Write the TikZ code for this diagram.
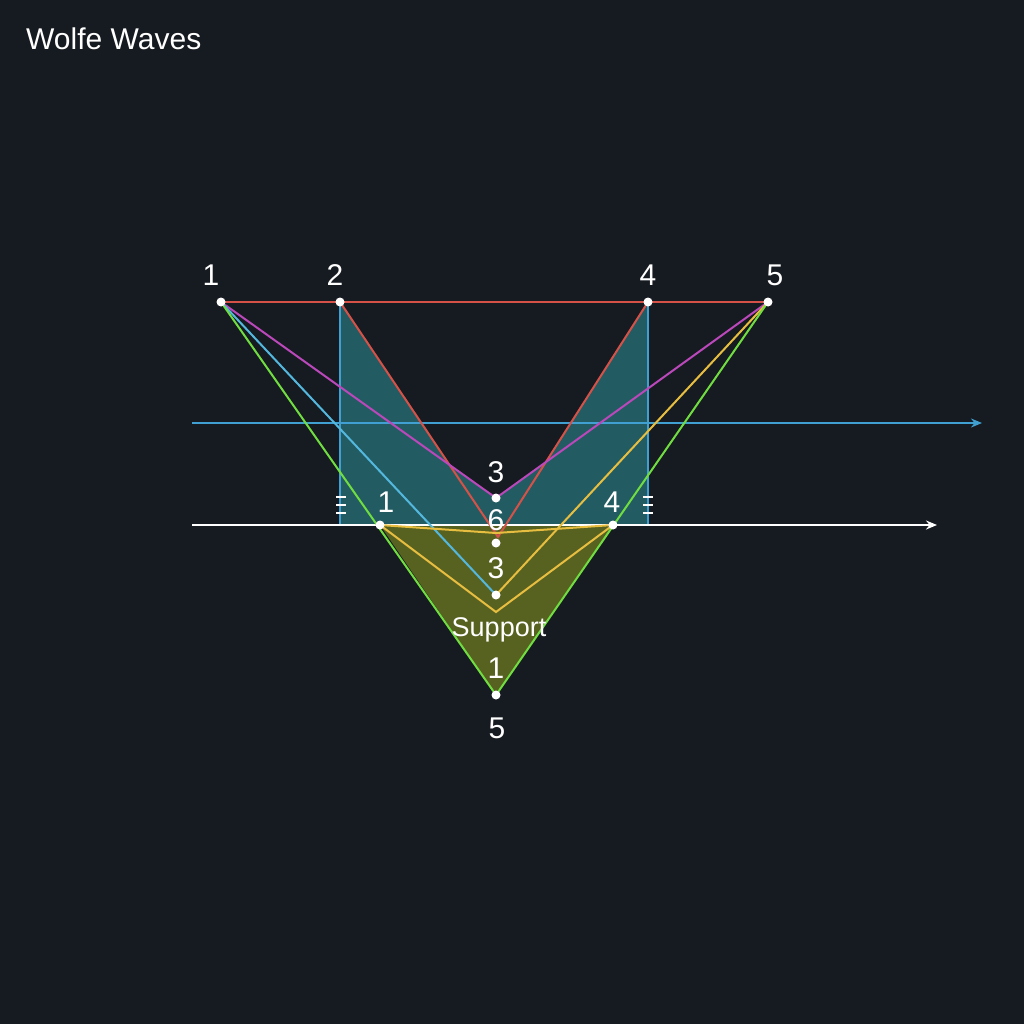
\documentclass[tikz,border=0pt]{standalone}
\usepackage{fontspec}
\setmainfont{Liberation Sans}
\usetikzlibrary{arrows.meta}
\definecolor{bgDark}{RGB}{22,26,33}
\definecolor{waveRed}{RGB}{214,82,72}
\definecolor{waveMagenta}{RGB}{186,72,186}
\definecolor{waveCyan}{RGB}{84,184,222}
\definecolor{axisBlue}{RGB}{64,160,210}
\definecolor{waveGreen}{RGB}{112,222,64}
\definecolor{waveYellow}{RGB}{232,190,64}
\definecolor{tealFill}{RGB}{34,92,98}
\definecolor{oliveFill}{RGB}{88,98,32}

\begin{document}
\begin{tikzpicture}[x=1pt, y=-1pt,
  dot/.style={circle, fill=white, inner sep=0pt, minimum size=9pt},
  num/.style={text=white, font=\fontsize{30}{30}\selectfont, inner sep=0pt},
  wave/.style={line width=2pt},
  tick/.style={white, line width=1.6pt},
  arr/.style={-{Stealth[length=11pt, width=9pt]}, line width=2pt}
]
\fill[bgDark] (0,0) rectangle (1024,1024);

% pivots of the wave
\coordinate (a1) at (221,302);
\coordinate (a2) at (340,302);
\coordinate (a4) at (648,302);
\coordinate (a5) at (768,302);
\coordinate (b1) at (380,525);
\coordinate (b4) at (613,525);
\coordinate (v2) at (340,525);
\coordinate (v4) at (648,525);
\coordinate (m3) at (496,498);
\coordinate (rv) at (498,537);
\coordinate (d6) at (496,543);
\coordinate (d3) at (496,595);
\coordinate (yv) at (496,612);
\coordinate (yc) at (496,533);
\coordinate (d5) at (496,695);
\coordinate (bluL) at (192,423);
\coordinate (bluR) at (982,423);
\coordinate (whtL) at (192,525);
\coordinate (whtR) at (937,525);

% fills
\fill[tealFill] (v2) -- (a2) -- (intersection of a1--m3 and a2--rv) -- (m3)
  -- (intersection of m3--a5 and rv--a4) -- (a4) -- (v4) -- cycle;
\fill[oliveFill] (b1) -- (d5) -- (b4) -- cycle;

% axes
\draw[axisBlue, wave] (a2) -- (v2);
\draw[axisBlue, wave] (a4) -- (v4);
\draw[arr, axisBlue] (bluL) -- (bluR);
\draw[arr, white] (whtL) -- (whtR);

% wave lines
\draw[waveRed, wave] (a1) -- (a5);
\draw[waveRed, wave] (a2) -- (rv) -- (a4);
\draw[waveMagenta, wave] (a1) -- (m3) -- (a5);
\draw[waveCyan, wave] (a1) -- (d3);
\draw[waveYellow, wave] (a5) -- (d3);
\draw[waveYellow, wave] (b1) -- (yv) -- (b4);
\draw[waveYellow, wave] (b1) -- (yc) -- (b4);
\draw[waveGreen, wave] (a1) -- (d5) -- (a5);

% ticks
\foreach \tx in {341,648}
  \foreach \ty in {497,505,513}
    \draw[tick] (\tx-5,\ty) -- (\tx+5,\ty);

% dots
\foreach \p in {a1,a2,a4,a5,b1,b4,m3,d6,d3,d5}
  \node[dot] (dot-\p) at (\p) {};

% labels
\node[num] (l1) at (211,275) {1};
\node[num] (l2) at (335,275) {2};
\node[num] (l4) at (648,275) {4};
\node[num] (l5) at (775,275) {5};
\node[num] (lb1) at (386,502) {1};
\node[num] (lb4) at (612,502) {4};
\node[num] (lm3) at (496,472) {3};
\node[num] (ld6) at (496,520) {6};
\node[num] (ld3) at (496,568) {3};
\node[num, font=\fontsize{27}{27}\selectfont] (lsup) at (499,630) {Support};
\node[num] (ls1) at (496,668) {1};
\node[num] (ld5) at (497,728) {5};
\node[num, anchor=west] (title) at (26,39) {Wolfe Waves};
\end{tikzpicture}
\end{document}
